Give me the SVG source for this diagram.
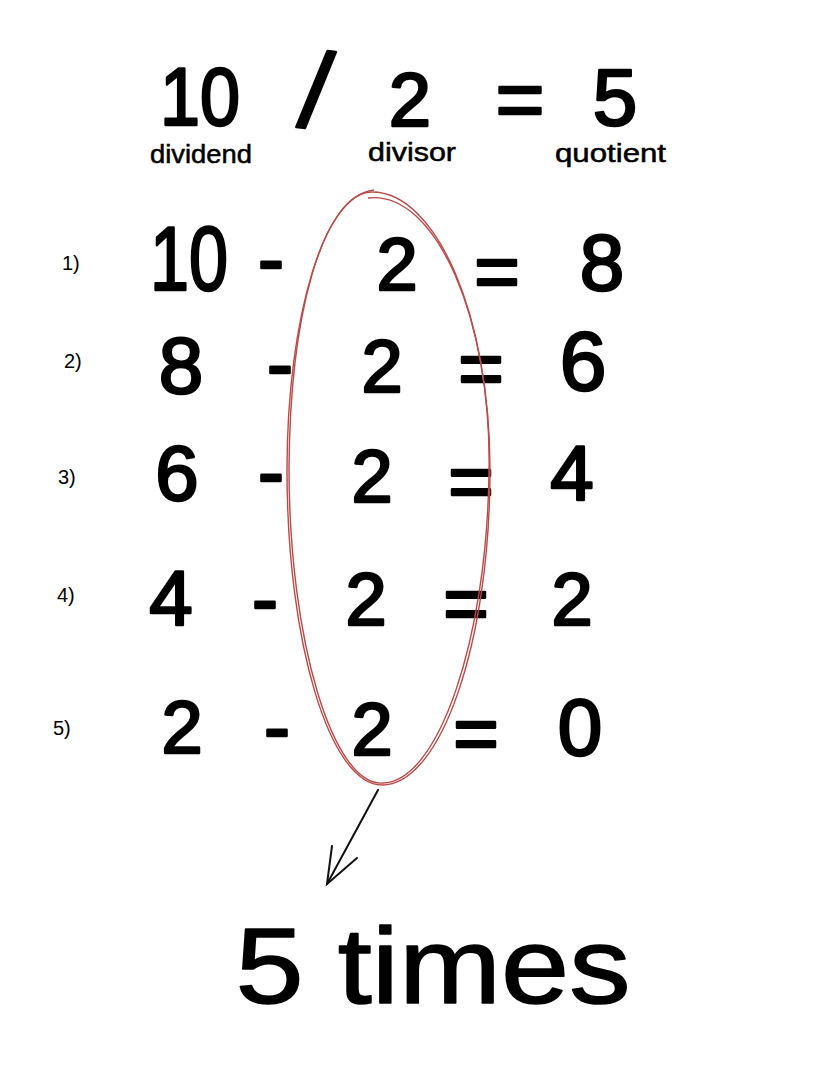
<svg xmlns="http://www.w3.org/2000/svg" width="820" height="1066" viewBox="0 0 820 1066">
<style>
.d{font-family:"Liberation Sans","DejaVu Sans",sans-serif;fill:#000;stroke:#000;stroke-width:2.6;stroke-linejoin:round;text-anchor:middle}
.l{font-family:"Liberation Sans","DejaVu Sans",sans-serif;fill:#000;stroke:#000;stroke-width:0.5}
.n{font-family:"Liberation Sans","DejaVu Sans",sans-serif;fill:#000;font-size:20px}
.ring{fill:none;stroke:#b94a48;stroke-width:1.4}
.arr{fill:none;stroke:#111;stroke-width:2;stroke-linecap:round}
</style>
<rect width="820" height="1066" fill="#fff"/>
<g id="equation">
<text class="d" x="200" y="125" font-size="82" textLength="80" lengthAdjust="spacingAndGlyphs">10</text>
<text class="d" x="316" y="128" font-size="108" transform="rotate(7 316 90)">/</text>
<text class="d" x="410" y="126" font-size="76">2</text>
<text class="d" x="520" y="128" font-size="84">=</text>
<text class="d" x="615" y="125" font-size="80">5</text>
<text class="l" x="150" y="163" font-size="25" textLength="102" lengthAdjust="spacingAndGlyphs">dividend</text>
<text class="l" x="368" y="161" font-size="25" textLength="88" lengthAdjust="spacingAndGlyphs">divisor</text>
<text class="l" x="555" y="162" font-size="25" textLength="111" lengthAdjust="spacingAndGlyphs">quotient</text>
</g>
<g id="step1">
<text class="n" x="62" y="270">1)</text>
<text class="d" x="189" y="290" font-size="90" textLength="78" lengthAdjust="spacingAndGlyphs">10</text>
<text class="d" x="271" y="286" font-size="78">-</text>
<text class="d" x="397" y="290" font-size="74">2</text>
<text class="d" x="497" y="298" font-size="78">=</text>
<text class="d" x="602" y="290" font-size="80">8</text>
</g>
<g id="step2">
<text class="n" x="64" y="368">2)</text>
<text class="d" x="181" y="393" font-size="80">8</text>
<text class="d" x="280" y="391" font-size="78">-</text>
<text class="d" x="382" y="392" font-size="74">2</text>
<text class="d" x="481" y="395" font-size="78">=</text>
<text class="d" x="583" y="390" font-size="84">6</text>
</g>
<g id="step3">
<text class="n" x="58" y="484">3)</text>
<text class="d" x="177" y="500" font-size="78">6</text>
<text class="d" x="271" y="499" font-size="78">-</text>
<text class="d" x="372" y="502" font-size="74">2</text>
<text class="d" x="471" y="508" font-size="78">=</text>
<text class="d" x="572" y="500" font-size="78">4</text>
</g>
<g id="step4">
<text class="n" x="57" y="602">4)</text>
<text class="d" x="171" y="625" font-size="78">4</text>
<text class="d" x="265" y="626" font-size="78">-</text>
<text class="d" x="366" y="625" font-size="74">2</text>
<text class="d" x="466" y="630" font-size="78">=</text>
<text class="d" x="572" y="625" font-size="74">2</text>
</g>
<g id="step5">
<text class="n" x="53" y="735">5)</text>
<text class="d" x="182" y="753" font-size="74">2</text>
<text class="d" x="277" y="754" font-size="78">-</text>
<text class="d" x="372" y="755" font-size="74">2</text>
<text class="d" x="476" y="760" font-size="78">=</text>
<text class="d" x="580" y="755" font-size="80">0</text>
</g>
<g id="divisor-ring">
<path class="ring" d="M372,192 C437,192 490,317 490,470 C490,643 441,785 382,785 C330,785 287,643 287,470 C287,317 325,192 372,192 Z"/>
<path class="ring" d="M368,198 C436,190 492,320 489,472 C487,640 438,782 383,783 C333,787 289,640 289,468 C290,320 320,196 374,190" stroke-width="1"/>
</g>
<g id="connectors">
<path class="arr" d="M378,790 L327,884"/>
<path class="arr" d="M332,846 L327,884 L357,858"/>
</g>
<g id="result">
<text class="d" x="433" y="1003" font-size="108" textLength="395" lengthAdjust="spacingAndGlyphs" style="stroke-width:1.5">5 times</text>
</g>
</svg>
